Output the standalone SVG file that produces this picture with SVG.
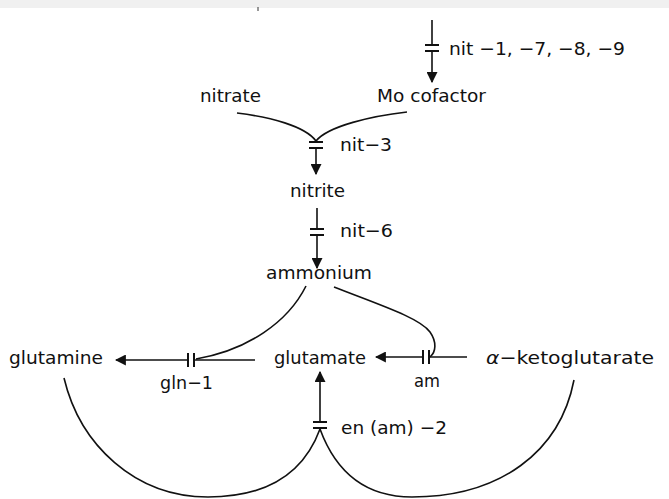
<svg xmlns="http://www.w3.org/2000/svg" width="669" height="499" viewBox="0 0 669 499">
<style>
  text { font-family: "DejaVu Sans", "Liberation Sans", Arial, sans-serif; font-size: 18px; fill: #111; }
  .ln { fill: none; stroke: #111; stroke-width: 1.6; }
  .bar { fill: none; stroke: #111; stroke-width: 2; }
</style>
<defs>
  <marker id="ah" viewBox="0 0 10 10" refX="9" refY="5" markerWidth="11" markerHeight="11" markerUnits="userSpaceOnUse" orient="auto">
    <path d="M0,0 L10,5 L0,10 Z" fill="#111"/>
  </marker>
</defs>
<rect x="0" y="0" width="669" height="499" fill="#fff"/>
<rect x="0" y="0" width="669" height="8" fill="#f0f0f0"/>
<line x1="258" y1="7" x2="258" y2="11" stroke="#333" stroke-width="1"/>

<g id="connectors">
  <!-- top: to Mo cofactor -->
  <line class="ln" x1="432" y1="20" x2="432" y2="45"/>
  <line class="bar" x1="425" y1="45" x2="439" y2="45"/>
  <line class="bar" x1="425" y1="51" x2="439" y2="51"/>
  <line class="ln" x1="432" y1="51" x2="432" y2="82" marker-end="url(#ah)"/>
  <!-- nitrate + Mo cofactor to nitrite -->
  <path class="ln" d="M237,113 C270,117 305,126 316,141"/>
  <path class="ln" d="M407,112 C372,116 328,126 316,141"/>
  <line class="bar" x1="309" y1="142" x2="323" y2="142"/>
  <line class="bar" x1="309" y1="148" x2="323" y2="148"/>
  <line class="ln" x1="316" y1="148" x2="316" y2="174" marker-end="url(#ah)"/>
  <!-- nitrite to ammonium -->
  <line class="ln" x1="317" y1="208" x2="317" y2="229"/>
  <line class="bar" x1="310" y1="229" x2="324" y2="229"/>
  <line class="bar" x1="310" y1="235" x2="324" y2="235"/>
  <line class="ln" x1="317" y1="235" x2="317" y2="268" marker-end="url(#ah)"/>
  <!-- ammonium to gln-1 -->
  <path class="ln" d="M306,286 C288,322 248,350 196,359"/>
  <!-- glutamate to glutamine -->
  <line class="ln" x1="255" y1="360" x2="194" y2="360"/>
  <line class="bar" x1="188" y1="353" x2="188" y2="367"/>
  <line class="bar" x1="194" y1="353" x2="194" y2="367"/>
  <line class="ln" x1="188" y1="360" x2="116" y2="360" marker-end="url(#ah)"/>
  <!-- ammonium to am -->
  <path class="ln" d="M334,287 C380,305 420,318 430,332 C437,342 436,352 430,357"/>
  <!-- ketoglutarate to glutamate -->
  <line class="ln" x1="467" y1="357" x2="429" y2="357"/>
  <line class="bar" x1="423" y1="350" x2="423" y2="364"/>
  <line class="bar" x1="429" y1="350" x2="429" y2="364"/>
  <line class="ln" x1="423" y1="357" x2="376" y2="357" marker-end="url(#ah)"/>
  <!-- en(am)-2 to glutamate -->
  <line class="ln" x1="320" y1="422" x2="320" y2="372" marker-end="url(#ah)"/>
  <line class="bar" x1="313" y1="422" x2="327" y2="422"/>
  <line class="bar" x1="313" y1="428" x2="327" y2="428"/>
  <path class="ln" d="M320,429 C302,478 262,497 208,497 C135,497 80,445 64,378"/>
  <path class="ln" d="M320,429 C338,478 372,497 412,497 C500,497 560,452 574,380"/>
</g>

<g id="label-nit1"><text x="449" y="55" textLength="176" lengthAdjust="spacingAndGlyphs">nit −1, −7, −8, −9</text></g>
<g id="node-nitrate"><text x="200" y="102" textLength="61" lengthAdjust="spacingAndGlyphs">nitrate</text></g>
<g id="node-mo-cofactor"><text x="377" y="102" textLength="109" lengthAdjust="spacingAndGlyphs">Mo cofactor</text></g>
<g id="label-nit3"><text x="340" y="151" textLength="52" lengthAdjust="spacingAndGlyphs">nit−3</text></g>
<g id="node-nitrite"><text x="290" y="197" textLength="55" lengthAdjust="spacingAndGlyphs">nitrite</text></g>
<g id="label-nit6"><text x="340" y="237" textLength="53" lengthAdjust="spacingAndGlyphs">nit−6</text></g>
<g id="node-ammonium"><text x="266" y="279" textLength="106" lengthAdjust="spacingAndGlyphs">ammonium</text></g>
<g id="node-glutamine"><text x="9" y="364" textLength="94" lengthAdjust="spacingAndGlyphs">glutamine</text></g>
<g id="node-glutamate"><text x="274" y="364" textLength="92" lengthAdjust="spacingAndGlyphs">glutamate</text></g>
<g id="node-ketoglutarate"><text x="486" y="364" textLength="168" lengthAdjust="spacingAndGlyphs"><tspan font-style="italic">α</tspan>−ketoglutarate</text></g>
<g id="label-gln1"><text x="160" y="389" textLength="53" lengthAdjust="spacingAndGlyphs">gln−1</text></g>
<g id="label-am"><text x="414" y="387" textLength="26" lengthAdjust="spacingAndGlyphs">am</text></g>
<g id="label-en"><text x="341" y="434" textLength="106" lengthAdjust="spacingAndGlyphs">en (am) −2</text></g>
</svg>
